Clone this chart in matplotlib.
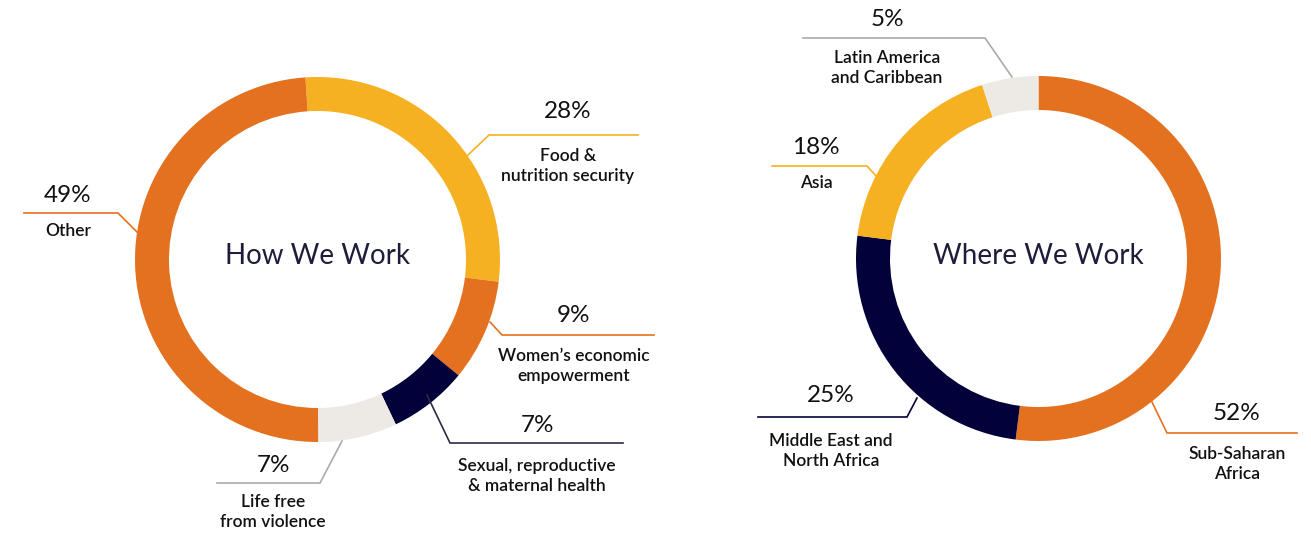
import matplotlib
matplotlib.use("Agg")
import matplotlib.pyplot as plt

plt.rcParams['font.family'] = ['Lato', 'DejaVu Sans']

# ---- data ----
how_labels = ['Food &\nnutrition security', 'Women\u2019s economic\nempowerment',
              'Sexual, reproductive\n& maternal health', 'Life free\nfrom violence', 'Other']
how_values = [28, 9, 7, 7, 49]

where_labels = ['Sub-Saharan\nAfrica', 'Middle East and\nNorth Africa', 'Asia',
                'Latin America\nand Caribbean']
where_values = [52, 25, 18, 5]

ORANGE = '#E4711F'
YELLOW = '#F5B122'
NAVY = '#02013A'
LIGHT = '#EDEAE5'
how_colors = [YELLOW, ORANGE, NAVY, LIGHT, ORANGE]
where_colors = [ORANGE, NAVY, YELLOW, LIGHT]
how_line_colors = [YELLOW, ORANGE, '#2B2B45', '#AAAAAA', ORANGE]
where_line_colors = [ORANGE, NAVY, YELLOW, '#AAAAAA']

W, H = 1311, 535
fig = plt.figure(figsize=(W / 100, H / 100), dpi=100)
ax = fig.add_axes([0, 0, 1, 1])


def Y(y):
    # pixel row (from top) -> data y
    return H - y


def donut(cx, cy, values, colors, start):
    ax.pie(values, colors=colors, center=(cx, Y(cy)), radius=182.5,
           startangle=start, counterclock=False,
           wedgeprops=dict(width=34, linewidth=0), frame=True)


# leader: ring point, elbow, line end; text centre x, pct y, label y
how_leaders = [
    [(468, 155), (489, 135), (638, 135), 568, 112, 166],
    [(490, 322), (502, 335), (654, 335), 574, 315, 366],
    [(427, 395), (450, 443), (623, 443), 537, 425, 476],
    [(342, 441), (320, 483), (217, 483), 273, 466, 512],
    [(137, 232), (118, 213), (24, 213), 68, 196, 231],
]
where_leaders = [
    [(1152, 402), (1167, 433), (1297, 433), 1237, 414, 464],
    [(917, 398), (907, 417), (758, 417), 831, 396, 451],
    [(877, 177), (867, 166), (772, 166), 816, 148, 183],
    [(1012, 77), (985, 38), (803, 38), 887, 20, 68],
]


def annotate(leaders, labels, values, lcolors):
    for (p0, p1, p2, tx, py, ly), lab, v, c in zip(leaders, labels, values, lcolors):
        ax.plot([p0[0], p1[0], p2[0]], [Y(p0[1]), Y(p1[1]), Y(p2[1])],
                color=c, lw=1.2, solid_joinstyle='miter')
        ax.text(tx, Y(py), f'{v}%', ha='center', va='center',
                fontsize=17.5, color='#111111')
        ax.text(tx, Y(ly), lab, ha='center', va='center', fontsize=12.5,
                fontweight='semibold', color='#111111', linespacing=1.3)


donut(317.5, 259.5, how_values, how_colors, 93.8)
donut(1038.5, 258.5, where_values, where_colors, 90)
annotate(how_leaders, how_labels, how_values, how_line_colors)
annotate(where_leaders, where_labels, where_values, where_line_colors)

ax.text(317.5, Y(256), 'How We Work', ha='center', va='center',
        fontsize=20, color='#1E1E3A')
ax.text(1038.5, Y(256), 'Where We Work', ha='center', va='center',
        fontsize=20, color='#1E1E3A')

ax.set_xlim(0, W)
ax.set_ylim(0, H)
ax.set_aspect('equal')
ax.axis('off')

fig.savefig('out.png', dpi=100, facecolor='white')
